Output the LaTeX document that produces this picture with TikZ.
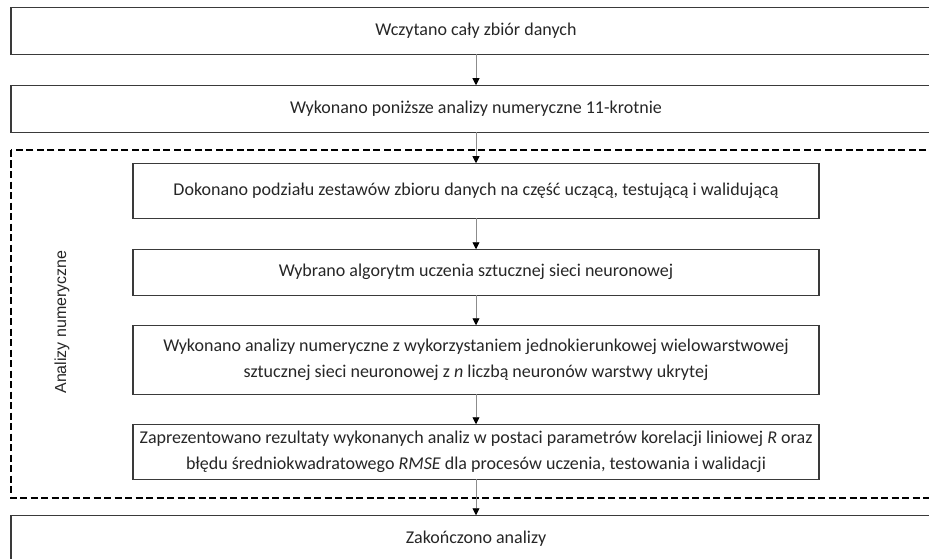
\documentclass[tikz,border=0pt]{standalone}
\usepackage{fontspec}
\setmainfont{Carlito}
\newfontfamily\sidefont{Liberation Sans}
\usepackage{xcolor}
\usetikzlibrary{arrows.meta,positioning}
\definecolor{boxgray}{HTML}{3A3A3A}
\definecolor{textgray}{HTML}{262626}
\definecolor{flowgray}{HTML}{8C8C8C}

\begin{document}
\begin{tikzpicture}[x=1pt,y=-1pt,node distance=31pt,>={Triangle[length=7pt,width=7pt,color=black]}]
  \tikzstyle{stage}=[draw=boxgray,line width=1.4pt,outer sep=0pt,align=center,text=textgray,font=\fontsize{18}{25.5}\selectfont]
  \tikzstyle{wide}=[stage,minimum width=930pt]
  \tikzstyle{narrow}=[stage,minimum width=686pt]
  \tikzstyle{flow}=[->,draw=flowgray,line width=0.9pt]
  \useasboundingbox (0,0) rectangle (929,559);
  \node[wide,minimum height=46.5pt] (load) at (476,31) {Wczytano cały zbiór danych};
  \node[wide,below=of load,minimum height=47pt] (repeat) {Wykonano poniższe analizy numeryczne 11-krotnie};
  \node[narrow,below=of repeat,minimum height=55pt] (split) {Dokonano podziału zestawów zbioru danych na część uczącą, testującą i walidującą};
  \node[narrow,below=of split,minimum height=46pt] (algo) {Wybrano algorytm uczenia sztucznej sieci neuronowej};
  \node[narrow,below=30pt of algo,minimum height=69pt] (ann) {Wykonano analizy numeryczne z wykorzystaniem jednokierunkowej wielowarstwowej\\sztucznej sieci neuronowej z \textit{n} liczbą neuronów warstwy ukrytej};
  \node[narrow,below=30pt of ann,minimum height=55pt] (present) {Zaprezentowano rezultaty wykonanych analiz w postaci parametrów korelacji liniowej \textit{R} oraz\\błędu średniokwadratowego \textit{RMSE} dla procesów uczenia, testowania i walidacji};
  \node[wide,below=36pt of present,minimum height=46.5pt] (finish) {Zakończono analizy};
  % group of numerical analyses
  \draw[black,line width=2.6pt,dash pattern=on 7pt off 3.5pt] (11,150) rectangle (950,498);
  \node[rotate=90,text=textgray,font=\sidefont\fontsize{16}{19}\selectfont] (group) at (62,322) {Analizy numeryczne};
  \foreach \from/\to in {load/repeat,repeat/split,split/algo,algo/ann,ann/present,present/finish}
    \draw[flow] (\from) -- (\to);
\end{tikzpicture}
\end{document}
